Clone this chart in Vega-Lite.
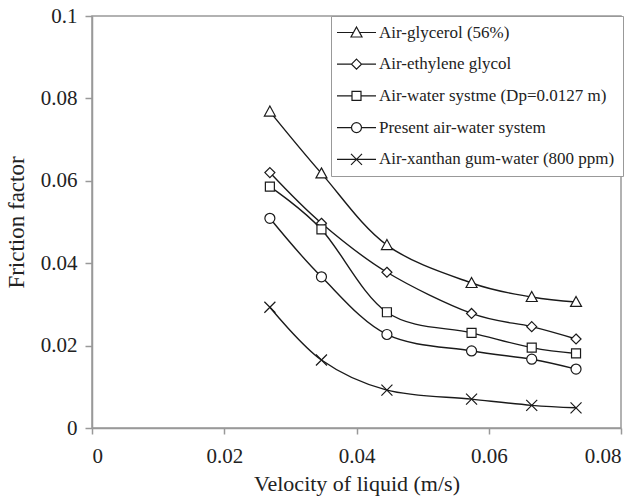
{
  "$schema": "https://vega.github.io/schema/vega-lite/v6.json",
  "width": 529,
  "height": 412,
  "autosize": {"type": "none"},
  "padding": {"left": 92, "top": 16, "right": 21, "bottom": 73},
  "background": "white",
  "config": {
    "font": "Liberation Serif",
    "view": {"stroke": "#999999", "strokeWidth": 1.5},
    "axis": {
      "grid": false,
      "domainColor": "#999999",
      "domainWidth": 1.5,
      "tickColor": "#999999",
      "tickWidth": 1.5,
      "labelFont": "Liberation Serif",
      "titleFont": "Liberation Serif",
      "labelColor": "#222222",
      "titleColor": "#222222",
      "labelFontSize": 21,
      "titleFontSize": 22,
      "titleFontWeight": "normal"
    }
  },
  "data": {
    "values": [
      {"series": "Air-glycerol (56%)", "v": 0.0269, "f": 0.0768},
      {"series": "Air-glycerol (56%)", "v": 0.0347, "f": 0.0618},
      {"series": "Air-glycerol (56%)", "v": 0.0446, "f": 0.0444},
      {"series": "Air-glycerol (56%)", "v": 0.0574, "f": 0.0352},
      {"series": "Air-glycerol (56%)", "v": 0.0665, "f": 0.0318},
      {"series": "Air-glycerol (56%)", "v": 0.0732, "f": 0.0306},
      {"series": "Air-ethylene glycol", "v": 0.0269, "f": 0.0620},
      {"series": "Air-ethylene glycol", "v": 0.0347, "f": 0.0497},
      {"series": "Air-ethylene glycol", "v": 0.0446, "f": 0.0378},
      {"series": "Air-ethylene glycol", "v": 0.0574, "f": 0.0278},
      {"series": "Air-ethylene glycol", "v": 0.0665, "f": 0.0246},
      {"series": "Air-ethylene glycol", "v": 0.0732, "f": 0.0216},
      {"series": "Air-water systme (Dp=0.0127 m)", "v": 0.0269, "f": 0.0586},
      {"series": "Air-water systme (Dp=0.0127 m)", "v": 0.0347, "f": 0.0482},
      {"series": "Air-water systme (Dp=0.0127 m)", "v": 0.0446, "f": 0.0281},
      {"series": "Air-water systme (Dp=0.0127 m)", "v": 0.0574, "f": 0.0231},
      {"series": "Air-water systme (Dp=0.0127 m)", "v": 0.0665, "f": 0.0195},
      {"series": "Air-water systme (Dp=0.0127 m)", "v": 0.0732, "f": 0.0181},
      {"series": "Present air-water system", "v": 0.0269, "f": 0.0509},
      {"series": "Present air-water system", "v": 0.0347, "f": 0.0367},
      {"series": "Present air-water system", "v": 0.0446, "f": 0.0227},
      {"series": "Present air-water system", "v": 0.0574, "f": 0.0187},
      {"series": "Present air-water system", "v": 0.0665, "f": 0.0167},
      {"series": "Present air-water system", "v": 0.0732, "f": 0.0143},
      {"series": "Air-xanthan gum-water (800 ppm)", "v": 0.0269, "f": 0.0293},
      {"series": "Air-xanthan gum-water (800 ppm)", "v": 0.0347, "f": 0.0165},
      {"series": "Air-xanthan gum-water (800 ppm)", "v": 0.0446, "f": 0.0092},
      {"series": "Air-xanthan gum-water (800 ppm)", "v": 0.0574, "f": 0.0070},
      {"series": "Air-xanthan gum-water (800 ppm)", "v": 0.0665, "f": 0.0055},
      {"series": "Air-xanthan gum-water (800 ppm)", "v": 0.0732, "f": 0.0049}
    ]
  },
  "encoding": {
    "x": {
      "field": "v",
      "type": "quantitative",
      "title": "Velocity of liquid (m/s)",
      "scale": {"domain": [0, 0.08], "nice": false, "zero": false},
      "axis": {"values": [0, 0.02, 0.04, 0.06, 0.08], "format": ".2~f", "tickSize": 6, "labelPadding": 11, "titlePadding": 7}
    },
    "y": {
      "field": "f",
      "type": "quantitative",
      "title": "Friction factor",
      "scale": {"domain": [0, 0.1], "nice": false, "zero": false},
      "axis": {"values": [0, 0.02, 0.04, 0.06, 0.08, 0.1], "format": ".2~f", "tickSize": 7, "labelPadding": 8, "titlePadding": 12, "titleFontSize": 23}
    }
  },
  "layer": [
    {
      "mark": {"type": "line", "interpolate": "cardinal", "color": "#1a1a1a", "strokeWidth": 1.4},
      "encoding": {"detail": {"field": "series"}}
    },
    {
      "mark": {"type": "point", "filled": true, "fill": "white", "stroke": "#1a1a1a", "strokeWidth": 1.2, "size": 100, "opacity": 1},
      "encoding": {
        "shape": {
          "field": "series",
          "scale": {
            "domain": ["Air-glycerol (56%)", "Air-ethylene glycol", "Air-water systme (Dp=0.0127 m)", "Present air-water system", "Air-xanthan gum-water (800 ppm)"],
            "range": ["M0,-1.1L1.1,0.9L-1.1,0.9Z", "M0,-1L1,0L0,1L-1,0Z", "M-0.9,-0.9H0.9V0.9H-0.9Z", "M1,0A1,1,0,1,1,-1,0A1,1,0,1,1,1,0Z", "M-1.1,-1.1L1.1,1.1M1.1,-1.1L-1.1,1.1"]
          },
          "legend": null
        }
      }
    },
    {
      "transform": [{"filter": "datum.v < 0"}],
      "mark": {"type": "point", "filled": false, "color": "#1a1a1a", "strokeWidth": 1.2, "size": 100, "opacity": 1},
      "encoding": {
        "shape": {
          "field": "series",
          "scale": {
            "domain": ["Air-glycerol (56%)", "Air-ethylene glycol", "Air-water systme (Dp=0.0127 m)", "Present air-water system", "Air-xanthan gum-water (800 ppm)"],
            "range": [
              "M-3.9,0H-0.6M0.6,0H3.9M0,-1.1L1.1,0.9L-1.1,0.9Z",
              "M-3.9,0H-1M1,0H3.9M0,-1L1,0L0,1L-1,0Z",
              "M-3.9,0H-0.9M0.9,0H3.9M-0.9,-0.9H0.9V0.9H-0.9Z",
              "M-3.9,0H-1M1,0H3.9M1,0A1,1,0,1,1,-1,0A1,1,0,1,1,1,0Z",
              "M-3.9,0H3.9M-1.1,-1.1L1.1,1.1M1.1,-1.1L-1.1,1.1"
            ]
          },
          "legend": {
            "title": null,
            "orient": "none",
            "legendX": 239,
            "legendY": 0,
            "padding": 8,
            "strokeColor": "#999999",
            "fillColor": "white",
            "symbolSize": 100,
            "symbolStrokeColor": "#1a1a1a",
            "symbolStrokeWidth": 1.2,
            "symbolOpacity": 1,
            "symbolOffset": 9,
            "labelOffset": 14,
            "labelFont": "Liberation Serif",
            "labelFontSize": 17,
            "labelColor": "#222222",
            "labelLimit": 400,
            "rowPadding": 13.7
          }
        }
      }
    }
  ],
  "resolve": {"scale": {"shape": "independent"}}
}
